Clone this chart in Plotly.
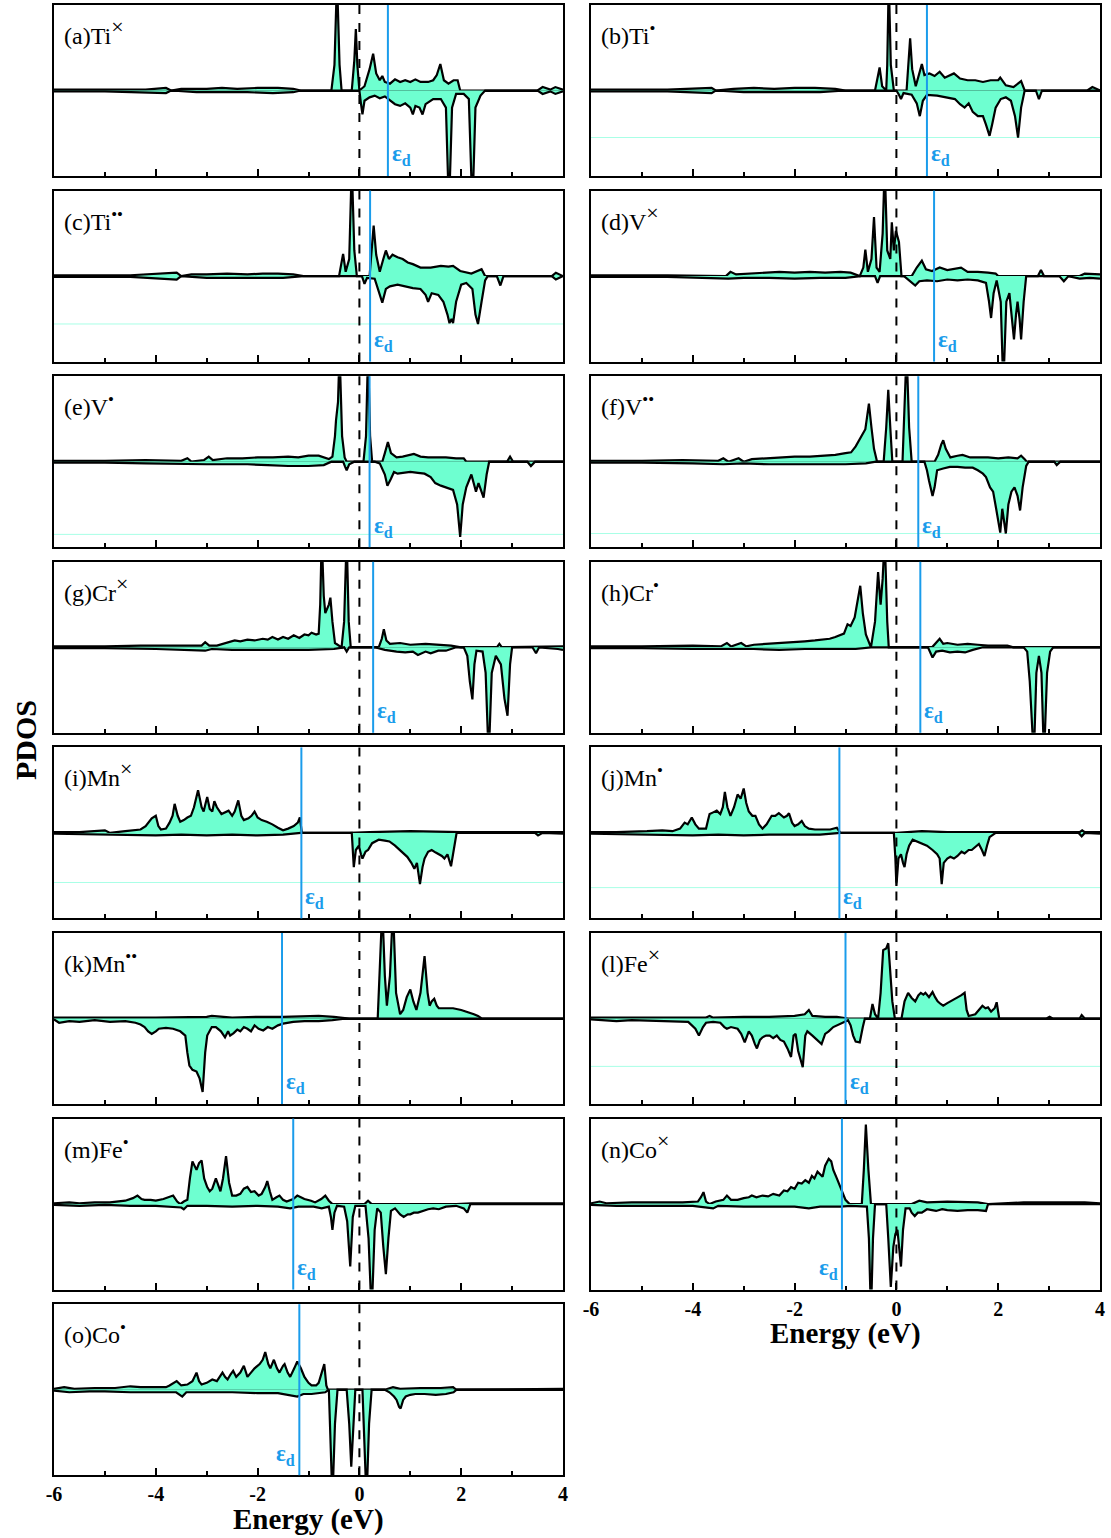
import plotly.graph_objects as go

# ---------------- data (energy eV, PDOS in units of panel half-height) ----------------
panel_keys = ['a', 'b', 'c', 'd', 'e', 'f', 'g', 'h', 'i', 'j', 'k', 'l', 'm', 'n', 'o']
panel_names = ['(a)Ti', '(b)Ti', '(c)Ti', '(d)V', '(e)V', '(f)V', '(g)Cr', '(h)Cr',
               '(i)Mn', '(j)Mn', '(k)Mn', '(l)Fe', '(m)Fe', '(n)Co', '(o)Co']
panel_charges = ['×', '•', '••', '×', '•', '••', '×', '•', '×', '•', '••', '×', '•', '×', '•']
eps_d = [0.56, 0.60, 0.21, 0.74, 0.20, 0.43, 0.27, 0.47, -1.14, -1.12, -1.52, -1.00, -1.30, -1.07, -1.18]
eps_left_side = ['n', 'o']
tick_vals = [-6, -4, -2, 0, 2, 4]
tick_text = ['-6', '-4', '-2', '0', '2', '4']
faint_lines = [('b', -0.55), ('c', -0.56), ('e', -0.85), ('f', -0.84), ('i', -0.58), ('j', -0.64), ('l', -0.56)]

a_up = [(-6,0.01),(-5.5,0.01),(-4.2,0.01),(-3.8,0.03),(-3.7,0.0),(-3.5,0.02),(-3.0,0.02),(-2.7,0.03),(-2.4,0.02),(-2.0,0.03),(-1.6,0.03),(-1.3,0.02),(-1.15,0.0),(-0.55,0.0),(-0.49,0.3),(-0.44,1.3),(-0.39,0.3),(-0.35,0.0),(-0.15,0.0),(-0.1,0.35),(-0.07,0.72),(-0.04,0.3),(0.0,0.0),(0.1,0.05),(0.2,0.25),(0.27,0.43),(0.33,0.2),(0.4,0.12),(0.45,0.17),(0.5,0.1),(0.6,0.08),(0.7,0.13),(0.8,0.1),(0.9,0.12),(1.0,0.1),(1.1,0.13),(1.2,0.1),(1.35,0.1),(1.45,0.12),(1.52,0.18),(1.59,0.31),(1.66,0.12),(1.75,0.08),(1.85,0.12),(1.93,0.12),(1.98,0.0),(3.5,0.0),(3.6,0.04),(3.75,0.01),(3.85,0.04),(4.0,0.01)]
a_dn = [(-6,-0.01),(-5.0,-0.01),(-3.8,-0.03),(-3.7,0.0),(-3.2,-0.02),(-2.8,-0.02),(-2.2,-0.02),(-1.7,-0.03),(-1.3,-0.02),(-1.15,0.0),(0.0,0.0),(0.03,-0.15),(0.06,-0.28),(0.1,-0.12),(0.2,-0.08),(0.3,-0.06),(0.4,-0.09),(0.5,-0.07),(0.6,-0.12),(0.7,-0.16),(0.8,-0.18),(0.9,-0.15),(1.0,-0.2),(1.05,-0.28),(1.1,-0.18),(1.18,-0.2),(1.24,-0.28),(1.3,-0.16),(1.45,-0.1),(1.6,-0.1),(1.7,-0.2),(1.76,-1.4),(1.82,-0.2),(1.9,-0.04),(2.05,-0.04),(2.15,-0.1),(2.22,-1.4),(2.28,-0.2),(2.38,-0.06),(2.47,0.0),(3.5,0.0),(3.6,-0.04),(3.75,-0.01),(3.85,-0.04),(4.0,-0.01)]

b_up = [(-6,0.01),(-4.5,0.01),(-3.63,0.03),(-3.55,0.0),(-3.2,0.02),(-2.8,0.03),(-2.4,0.02),(-2.0,0.03),(-1.6,0.03),(-1.2,0.02),(-1.0,0.0),(-0.42,0.0),(-0.37,0.15),(-0.33,0.27),(-0.28,0.05),(-0.2,0.0),(-0.18,0.3),(-0.15,1.3),(-0.11,0.3),(-0.05,0.0),(0.2,0.0),(0.24,0.3),(0.27,0.61),(0.31,0.25),(0.38,0.05),(0.45,0.2),(0.5,0.31),(0.55,0.18),(0.65,0.2),(0.75,0.17),(0.85,0.22),(0.95,0.15),(1.05,0.18),(1.13,0.2),(1.25,0.14),(1.4,0.12),(1.55,0.12),(1.7,0.1),(1.85,0.12),(2.0,0.12),(2.04,0.15),(2.15,0.06),(2.3,0.04),(2.4,0.08),(2.45,0.11),(2.52,0.0),(3.75,0.0),(3.85,0.04),(4.0,0.0)]
b_dn = [(-6,-0.01),(-4.5,-0.01),(-3.63,-0.03),(-3.55,0.0),(-3.0,-0.02),(-2.5,-0.02),(-2.0,-0.02),(-1.5,-0.02),(-1.0,0.0),(0.0,0.0),(0.05,-0.05),(0.09,-0.1),(0.14,-0.03),(0.3,-0.05),(0.4,-0.15),(0.46,-0.3),(0.52,-0.12),(0.6,-0.05),(0.8,-0.06),(1.0,-0.08),(1.15,-0.1),(1.25,-0.16),(1.34,-0.2),(1.42,-0.15),(1.5,-0.25),(1.6,-0.3),(1.7,-0.3),(1.76,-0.4),(1.83,-0.53),(1.88,-0.4),(1.95,-0.2),(2.05,-0.1),(2.15,-0.08),(2.25,-0.12),(2.33,-0.3),(2.39,-0.55),(2.45,-0.2),(2.52,0.0),(2.74,0.0),(2.8,-0.1),(2.86,0.0),(4.0,0.0)]

c_up = [(-6,0.01),(-4.5,0.01),(-3.59,0.04),(-3.5,0.0),(-3.3,0.02),(-3.0,0.02),(-2.6,0.03),(-2.2,0.02),(-1.9,0.03),(-1.6,0.03),(-1.3,0.02),(-1.1,0.0),(-0.4,0.0),(-0.35,0.15),(-0.32,0.26),(-0.27,0.05),(-0.2,0.2),(-0.15,1.3),(-0.1,0.3),(-0.05,0.0),(0.2,0.0),(0.24,0.3),(0.28,0.59),(0.33,0.25),(0.4,0.05),(0.47,0.2),(0.52,0.3),(0.58,0.2),(0.65,0.25),(0.75,0.22),(0.85,0.2),(0.95,0.16),(1.05,0.14),(1.2,0.1),(1.4,0.1),(1.6,0.12),(1.75,0.11),(1.84,0.12),(1.98,0.06),(2.2,0.03),(2.33,0.06),(2.4,0.08),(2.47,0.0),(3.78,0.0),(3.86,0.04),(4.0,0.0)]
c_dn = [(-6,-0.01),(-4.5,-0.01),(-3.59,-0.04),(-3.5,0.0),(-3.0,-0.02),(-2.5,-0.02),(-2.0,-0.02),(-1.5,-0.02),(-1.1,0.0),(0.05,0.0),(0.1,-0.09),(0.15,-0.02),(0.3,-0.03),(0.4,-0.2),(0.45,-0.31),(0.52,-0.15),(0.6,-0.12),(0.75,-0.1),(0.9,-0.12),(1.05,-0.14),(1.2,-0.15),(1.3,-0.22),(1.35,-0.3),(1.42,-0.2),(1.55,-0.22),(1.65,-0.3),(1.73,-0.45),(1.77,-0.55),(1.81,-0.5),(1.84,-0.55),(1.9,-0.3),(2.0,-0.1),(2.1,-0.08),(2.22,-0.15),(2.28,-0.45),(2.33,-0.56),(2.4,-0.3),(2.47,-0.05),(2.52,0.0),(2.7,0.0),(2.77,-0.11),(2.83,0.0),(3.78,0.0),(3.86,-0.04),(4.0,0.0)]

d_up = [(-6,0.01),(-4.5,0.01),(-3.35,0.0),(-3.26,0.05),(-3.15,0.02),(-2.9,0.03),(-2.6,0.04),(-2.3,0.05),(-2.0,0.04),(-1.7,0.05),(-1.4,0.04),(-1.1,0.05),(-0.9,0.04),(-0.72,0.0),(-0.65,0.1),(-0.61,0.31),(-0.56,0.05),(-0.49,0.2),(-0.44,0.69),(-0.39,0.1),(-0.33,0.05),(-0.27,0.5),(-0.23,1.3),(-0.18,0.3),(-0.12,0.2),(-0.09,0.63),(-0.05,0.3),(-0.01,0.53),(0.05,0.4),(0.1,0.0),(0.3,0.0),(0.4,0.1),(0.5,0.18),(0.58,0.08),(0.7,0.06),(0.85,0.1),(1.0,0.07),(1.15,0.09),(1.27,0.1),(1.4,0.05),(1.6,0.05),(1.8,0.04),(1.95,0.03),(2.0,0.0),(2.78,0.0),(2.84,0.07),(2.9,0.0),(3.6,0.0),(3.7,0.03),(4.0,0.02)]
d_dn = [(-6,-0.01),(-4.5,-0.01),(-3.3,-0.03),(-3.0,-0.02),(-2.5,-0.02),(-2.0,-0.03),(-1.5,-0.02),(-1.0,-0.02),(-0.7,0.0),(-0.42,0.0),(-0.37,-0.08),(-0.32,0.0),(0.15,0.0),(0.25,-0.05),(0.37,-0.11),(0.45,-0.06),(0.6,-0.05),(0.8,-0.06),(1.0,-0.04),(1.2,-0.05),(1.4,-0.04),(1.6,-0.05),(1.76,-0.08),(1.82,-0.3),(1.86,-0.49),(1.91,-0.2),(1.97,-0.05),(2.05,-0.3),(2.1,-1.3),(2.16,-0.3),(2.22,-0.2),(2.27,-0.5),(2.31,-0.74),(2.35,-0.45),(2.38,-0.3),(2.42,-0.5),(2.45,-0.74),(2.5,-0.3),(2.55,0.0),(3.2,0.0),(3.29,-0.06),(3.38,0.0),(3.6,-0.03),(3.8,-0.02),(4.0,-0.03)]

e_up = [(-6,0.01),(-5.0,0.01),(-4.2,0.02),(-3.5,0.01),(-3.38,0.04),(-3.3,0.0),(-3.05,0.02),(-2.96,0.06),(-2.88,0.02),(-2.6,0.04),(-2.3,0.04),(-2.0,0.05),(-1.7,0.05),(-1.4,0.06),(-1.2,0.05),(-1.0,0.07),(-0.8,0.07),(-0.6,0.03),(-0.53,0.06),(-0.48,0.3),(-0.46,0.48),(-0.42,0.7),(-0.39,1.3),(-0.34,0.3),(-0.29,0.05),(-0.25,0.0),(0.08,0.0),(0.13,0.3),(0.17,1.3),(0.21,0.3),(0.25,0.0),(0.45,0.0),(0.5,0.1),(0.56,0.23),(0.62,0.1),(0.73,0.05),(0.85,0.06),(0.95,0.07),(1.07,0.09),(1.2,0.06),(1.35,0.05),(1.5,0.05),(1.7,0.05),(1.9,0.04),(2.05,0.04),(2.1,0.0),(2.9,0.0),(2.96,0.06),(3.02,0.0),(4.0,0.0)]
e_dn = [(-6,-0.01),(-5.0,-0.01),(-4.2,-0.02),(-3.38,-0.03),(-3.0,-0.03),(-2.6,-0.03),(-2.2,-0.03),(-1.8,-0.04),(-1.4,-0.05),(-1.0,-0.05),(-0.7,-0.04),(-0.55,0.0),(-0.32,0.0),(-0.28,-0.06),(-0.25,-0.1),(-0.2,-0.03),(-0.1,0.0),(0.3,0.0),(0.4,-0.02),(0.5,-0.15),(0.55,-0.28),(0.62,-0.2),(0.68,-0.12),(0.75,-0.14),(0.87,-0.13),(1.0,-0.12),(1.15,-0.13),(1.28,-0.14),(1.4,-0.18),(1.49,-0.25),(1.6,-0.28),(1.7,-0.3),(1.84,-0.33),(1.92,-0.5),(1.98,-0.88),(2.03,-0.5),(2.1,-0.3),(2.2,-0.15),(2.26,-0.3),(2.29,-0.35),(2.34,-0.25),(2.4,-0.35),(2.44,-0.42),(2.5,-0.15),(2.55,0.0),(3.3,0.0),(3.37,-0.05),(3.45,0.0),(4.0,0.0)]

f_up = [(-6,0.01),(-5.0,0.01),(-4.2,0.02),(-3.5,0.01),(-3.4,0.04),(-3.3,0.0),(-3.1,0.04),(-3.0,0.0),(-2.84,0.03),(-2.6,0.04),(-2.3,0.05),(-2.0,0.06),(-1.7,0.06),(-1.4,0.07),(-1.2,0.08),(-1.0,0.1),(-0.89,0.11),(-0.8,0.18),(-0.75,0.23),(-0.68,0.3),(-0.61,0.38),(-0.57,0.55),(-0.54,0.68),(-0.49,0.4),(-0.44,0.15),(-0.38,0.0),(-0.25,0.0),(-0.2,0.4),(-0.16,0.84),(-0.12,0.4),(-0.08,0.0),(0.12,0.0),(0.16,0.5),(0.2,1.3),(0.25,0.4),(0.3,0.0),(0.75,0.0),(0.82,0.08),(0.88,0.2),(0.92,0.25),(0.97,0.15),(1.06,0.05),(1.2,0.07),(1.3,0.08),(1.45,0.05),(1.6,0.05),(1.8,0.05),(2.0,0.04),(2.2,0.05),(2.38,0.04),(2.45,0.07),(2.52,0.03),(2.56,0.0),(4.0,0.0)]
f_dn = [(-6,-0.01),(-5.0,-0.01),(-4.0,-0.02),(-3.4,-0.03),(-3.0,-0.02),(-2.5,-0.03),(-2.0,-0.03),(-1.5,-0.03),(-1.0,-0.03),(-0.6,-0.02),(-0.4,0.0),(0.55,0.0),(0.6,-0.1),(0.64,-0.22),(0.68,-0.35),(0.71,-0.4),(0.75,-0.3),(0.8,-0.1),(0.92,-0.08),(1.05,-0.06),(1.2,-0.06),(1.35,-0.07),(1.5,-0.07),(1.6,-0.1),(1.7,-0.14),(1.76,-0.18),(1.84,-0.3),(1.9,-0.35),(1.96,-0.55),(2.02,-0.8),(2.04,-0.83),(2.08,-0.55),(2.12,-0.7),(2.15,-0.84),(2.2,-0.5),(2.26,-0.35),(2.32,-0.3),(2.38,-0.4),(2.43,-0.57),(2.48,-0.3),(2.55,-0.05),(2.6,0.0),(3.1,0.0),(3.15,-0.04),(3.22,0.0),(4.0,0.0)]

g_up = [(-6,0.01),(-5.0,0.01),(-4.3,0.02),(-3.5,0.02),(-3.1,0.02),(-3.03,0.06),(-2.95,0.02),(-2.8,0.02),(-2.6,0.05),(-2.45,0.08),(-2.34,0.07),(-2.2,0.09),(-2.06,0.08),(-1.9,0.1),(-1.8,0.09),(-1.71,0.12),(-1.6,0.09),(-1.5,0.12),(-1.4,0.1),(-1.29,0.14),(-1.18,0.11),(-1.08,0.15),(-1.0,0.14),(-0.94,0.17),(-0.85,0.15),(-0.8,0.16),(-0.77,0.5),(-0.74,1.3),(-0.7,0.6),(-0.67,0.4),(-0.6,0.5),(-0.57,0.58),(-0.53,0.3),(-0.48,0.05),(-0.35,0.0),(-0.3,0.3),(-0.25,1.3),(-0.21,0.3),(-0.17,0.0),(0.38,0.0),(0.44,0.1),(0.48,0.21),(0.53,0.08),(0.6,0.04),(0.8,0.05),(1.0,0.03),(1.3,0.04),(1.5,0.03),(1.8,0.02),(2.0,0.0),(2.7,0.0),(2.75,0.04),(2.8,0.0),(4.0,0.01)]
g_dn = [(-6,-0.01),(-5.0,-0.01),(-4.0,-0.02),(-3.03,-0.04),(-2.9,-0.02),(-2.5,-0.03),(-2.0,-0.03),(-1.5,-0.03),(-1.0,-0.03),(-0.5,-0.02),(-0.3,0.0),(-0.25,-0.05),(-0.2,0.0),(0.3,0.0),(0.5,-0.03),(0.73,-0.05),(0.9,-0.06),(1.05,-0.05),(1.15,-0.09),(1.3,-0.05),(1.4,-0.07),(1.55,-0.04),(1.7,-0.04),(1.9,0.0),(2.05,0.0),(2.12,-0.1),(2.17,-0.4),(2.22,-0.61),(2.26,-0.2),(2.3,-0.04),(2.42,-0.05),(2.48,-0.3),(2.54,-1.3),(2.6,-0.3),(2.68,-0.1),(2.78,-0.2),(2.85,-0.6),(2.91,-0.8),(2.96,-0.2),(3.0,0.0),(3.4,0.0),(3.47,-0.07),(3.53,0.0),(3.9,-0.02),(4.0,-0.03)]

h_up = [(-6,0.01),(-5.0,0.01),(-4.0,0.02),(-3.45,0.01),(-3.33,0.05),(-3.25,0.01),(-3.05,0.05),(-2.95,0.01),(-2.8,0.03),(-2.5,0.04),(-2.3,0.05),(-2.0,0.06),(-1.8,0.07),(-1.6,0.08),(-1.45,0.09),(-1.31,0.1),(-1.2,0.12),(-1.1,0.14),(-1.03,0.16),(-0.96,0.27),(-0.9,0.25),(-0.82,0.35),(-0.76,0.55),(-0.71,0.72),(-0.66,0.4),(-0.6,0.15),(-0.5,0.0),(-0.42,0.3),(-0.36,0.88),(-0.31,0.5),(-0.27,0.8),(-0.23,1.3),(-0.18,0.3),(-0.15,0.0),(0.7,0.0),(0.78,0.05),(0.85,0.1),(0.92,0.04),(1.0,0.05),(1.2,0.03),(1.4,0.04),(1.6,0.03),(1.8,0.02),(2.0,0.02),(2.18,0.02),(2.3,0.0),(4.0,0.0)]
h_dn = [(-6,-0.01),(-5.0,-0.01),(-4.0,-0.02),(-3.3,-0.02),(-2.8,-0.02),(-2.3,-0.03),(-1.8,-0.02),(-1.3,-0.02),(-0.8,-0.02),(-0.5,0.0),(0.62,0.0),(0.71,-0.12),(0.78,-0.05),(0.9,-0.04),(1.05,-0.06),(1.2,-0.05),(1.35,-0.06),(1.5,-0.03),(1.7,0.0),(2.5,0.0),(2.57,-0.05),(2.62,-0.4),(2.66,-0.9),(2.7,-1.3),(2.75,-0.3),(2.8,-0.1),(2.85,-0.3),(2.9,-1.3),(2.96,-0.3),(3.02,-0.05),(3.08,0.0),(4.0,0.0)]

i_up = [(-6,0.01),(-5.5,0.01),(-5.0,0.03),(-4.9,0.0),(-4.6,0.02),(-4.3,0.04),(-4.2,0.08),(-4.08,0.17),(-4.0,0.2),(-3.95,0.08),(-3.9,0.04),(-3.8,0.05),(-3.73,0.12),(-3.67,0.2),(-3.63,0.34),(-3.57,0.2),(-3.52,0.13),(-3.45,0.15),(-3.38,0.18),(-3.31,0.2),(-3.25,0.3),(-3.17,0.5),(-3.1,0.3),(-3.06,0.25),(-3.02,0.35),(-2.99,0.42),(-2.94,0.28),(-2.89,0.25),(-2.85,0.37),(-2.8,0.3),(-2.71,0.22),(-2.65,0.24),(-2.57,0.26),(-2.5,0.2),(-2.45,0.25),(-2.38,0.38),(-2.32,0.2),(-2.27,0.15),(-2.18,0.17),(-2.12,0.2),(-2.06,0.25),(-2.0,0.18),(-1.92,0.15),(-1.82,0.13),(-1.71,0.1),(-1.6,0.06),(-1.5,0.03),(-1.4,0.05),(-1.29,0.08),(-1.21,0.12),(-1.17,0.18),(-1.13,0.0),(-0.2,0.0),(0.2,0.01),(1.0,0.02),(2.0,0.01),(3.51,0.01),(4.0,0.01)]
i_dn = [(-6,-0.01),(-5.0,-0.02),(-4.5,-0.02),(-4.0,-0.03),(-3.5,-0.02),(-3.0,-0.03),(-2.5,-0.02),(-2.0,-0.03),(-1.5,-0.02),(-1.15,0.0),(-0.15,0.0),(-0.13,-0.25),(-0.11,-0.4),(-0.07,-0.2),(-0.01,-0.15),(0.03,-0.25),(0.06,-0.3),(0.12,-0.22),(0.17,-0.2),(0.25,-0.12),(0.38,-0.08),(0.5,-0.09),(0.59,-0.1),(0.7,-0.15),(0.8,-0.2),(0.88,-0.24),(0.94,-0.28),(1.02,-0.35),(1.08,-0.42),(1.13,-0.35),(1.19,-0.6),(1.24,-0.4),(1.28,-0.3),(1.35,-0.22),(1.42,-0.2),(1.5,-0.23),(1.56,-0.25),(1.62,-0.27),(1.67,-0.3),(1.73,-0.25),(1.8,-0.39),(1.86,-0.2),(1.91,0.0),(3.45,0.0),(3.51,-0.03),(3.6,0.0),(4.0,-0.01)]

j_up = [(-6,0.01),(-5.5,0.01),(-4.9,0.02),(-4.6,0.03),(-4.4,0.02),(-4.25,0.05),(-4.16,0.12),(-4.1,0.1),(-4.02,0.18),(-3.95,0.1),(-3.88,0.05),(-3.74,0.05),(-3.7,0.15),(-3.67,0.22),(-3.6,0.24),(-3.53,0.26),(-3.46,0.22),(-3.41,0.3),(-3.37,0.48),(-3.32,0.3),(-3.26,0.2),(-3.19,0.3),(-3.12,0.45),(-3.06,0.4),(-3.0,0.52),(-2.95,0.35),(-2.9,0.25),(-2.83,0.2),(-2.77,0.2),(-2.7,0.1),(-2.63,0.05),(-2.55,0.1),(-2.45,0.2),(-2.38,0.2),(-2.31,0.23),(-2.26,0.2),(-2.21,0.18),(-2.15,0.2),(-2.11,0.23),(-2.05,0.12),(-2.0,0.08),(-1.93,0.1),(-1.86,0.14),(-1.8,0.08),(-1.72,0.05),(-1.6,0.04),(-1.45,0.04),(-1.3,0.04),(-1.17,0.06),(-1.1,0.0),(0.0,0.0),(0.5,0.02),(1.0,0.01),(2.0,0.01),(3.6,0.01),(3.65,0.03),(3.7,0.01),(4.0,0.01)]
j_dn = [(-6,-0.01),(-5.0,-0.02),(-4.5,-0.02),(-4.0,-0.03),(-3.5,-0.02),(-3.0,-0.03),(-2.5,-0.02),(-2.0,-0.02),(-1.5,-0.02),(-1.1,0.0),(-0.05,0.0),(-0.02,-0.3),(0.0,-0.62),(0.04,-0.3),(0.09,-0.25),(0.13,-0.35),(0.16,-0.4),(0.2,-0.25),(0.25,-0.15),(0.32,-0.08),(0.4,-0.1),(0.5,-0.12),(0.6,-0.15),(0.71,-0.2),(0.8,-0.25),(0.85,-0.3),(0.89,-0.6),(0.93,-0.35),(1.0,-0.3),(1.06,-0.28),(1.13,-0.3),(1.2,-0.27),(1.28,-0.22),(1.34,-0.24),(1.42,-0.2),(1.48,-0.2),(1.55,-0.17),(1.62,-0.13),(1.68,-0.2),(1.73,-0.27),(1.78,-0.15),(1.83,-0.05),(1.95,0.0),(3.58,0.0),(3.64,-0.04),(3.7,0.0),(4.0,-0.01)]

k_up = [(-6,0.01),(-5.0,0.01),(-4.0,0.01),(-3.0,0.02),(-2.9,0.03),(-2.5,0.01),(-2.0,0.02),(-1.5,0.02),(-1.1,0.03),(-0.8,0.03),(-0.5,0.02),(-0.2,0.0),(0.36,0.0),(0.4,0.5),(0.45,1.3),(0.5,0.5),(0.54,0.15),(0.6,0.5),(0.66,1.3),(0.72,0.3),(0.8,0.05),(0.86,0.1),(0.93,0.25),(1.0,0.34),(1.06,0.2),(1.12,0.1),(1.2,0.3),(1.28,0.73),(1.34,0.3),(1.38,0.15),(1.42,0.2),(1.47,0.23),(1.52,0.15),(1.56,0.12),(1.7,0.12),(1.84,0.12),(2.0,0.1),(2.12,0.08),(2.25,0.05),(2.33,0.03),(2.4,0.0),(4.0,0.0)]
k_dn = [(-6,-0.01),(-5.9,-0.05),(-5.7,-0.03),(-5.5,-0.04),(-5.2,-0.02),(-4.9,-0.04),(-4.6,-0.03),(-4.4,-0.05),(-4.3,-0.07),(-4.22,-0.1),(-4.15,-0.15),(-4.08,-0.18),(-4.0,-0.15),(-3.94,-0.12),(-3.8,-0.11),(-3.66,-0.12),(-3.52,-0.15),(-3.42,-0.2),(-3.38,-0.4),(-3.34,-0.55),(-3.28,-0.6),(-3.2,-0.62),(-3.14,-0.7),(-3.08,-0.86),(-3.03,-0.4),(-2.99,-0.2),(-2.9,-0.1),(-2.82,-0.1),(-2.72,-0.15),(-2.64,-0.22),(-2.58,-0.15),(-2.54,-0.2),(-2.47,-0.17),(-2.4,-0.13),(-2.34,-0.15),(-2.27,-0.1),(-2.2,-0.12),(-2.13,-0.15),(-2.06,-0.08),(-1.98,-0.12),(-1.89,-0.14),(-1.8,-0.1),(-1.71,-0.12),(-1.6,-0.08),(-1.5,-0.06),(-1.3,-0.04),(-1.08,-0.03),(-0.8,-0.03),(-0.53,-0.02),(-0.25,0.0),(4.0,0.0)]

l_up = [(-6,0.01),(-5.5,0.01),(-4.5,0.01),(-3.75,0.01),(-3.67,0.03),(-3.6,0.01),(-3.0,0.02),(-2.5,0.02),(-2.0,0.03),(-1.8,0.05),(-1.72,0.1),(-1.65,0.03),(-1.4,0.02),(-1.17,0.02),(-0.95,0.0),(-0.52,0.0),(-0.47,0.17),(-0.42,0.05),(-0.36,0.0),(-0.31,0.3),(-0.26,0.8),(-0.2,0.82),(-0.16,0.88),(-0.12,0.5),(-0.08,0.2),(-0.03,0.0),(0.1,0.0),(0.16,0.2),(0.23,0.3),(0.3,0.24),(0.37,0.2),(0.43,0.27),(0.48,0.3),(0.53,0.28),(0.57,0.3),(0.64,0.25),(0.71,0.31),(0.76,0.25),(0.81,0.2),(0.87,0.17),(0.92,0.15),(1.0,0.18),(1.06,0.2),(1.13,0.22),(1.2,0.24),(1.27,0.27),(1.34,0.3),(1.38,0.1),(1.42,0.03),(1.55,0.05),(1.62,0.1),(1.69,0.15),(1.75,0.12),(1.8,0.13),(1.86,0.08),(1.93,0.12),(1.97,0.19),(2.02,0.0),(2.95,0.0),(3.01,0.02),(3.07,0.0),(3.6,0.0),(3.64,0.04),(3.7,0.0),(4.0,0.0)]
l_dn = [(-6,-0.01),(-5.5,-0.03),(-5.2,-0.02),(-4.7,-0.03),(-4.3,-0.03),(-4.09,-0.04),(-3.95,-0.12),(-3.88,-0.2),(-3.8,-0.1),(-3.74,-0.05),(-3.6,-0.04),(-3.46,-0.05),(-3.38,-0.1),(-3.33,-0.12),(-3.25,-0.1),(-3.12,-0.12),(-3.05,-0.18),(-2.98,-0.28),(-2.9,-0.15),(-2.84,-0.2),(-2.78,-0.3),(-2.74,-0.35),(-2.68,-0.25),(-2.63,-0.22),(-2.56,-0.2),(-2.49,-0.2),(-2.42,-0.23),(-2.35,-0.2),(-2.28,-0.25),(-2.21,-0.27),(-2.14,-0.35),(-2.07,-0.45),(-2.02,-0.2),(-1.98,-0.18),(-1.93,-0.38),(-1.87,-0.5),(-1.84,-0.57),(-1.79,-0.2),(-1.75,-0.15),(-1.65,-0.2),(-1.58,-0.24),(-1.52,-0.27),(-1.47,-0.3),(-1.4,-0.18),(-1.33,-0.15),(-1.24,-0.1),(-1.13,-0.07),(-1.03,-0.05),(-0.95,-0.02),(-0.9,-0.08),(-0.85,-0.2),(-0.8,-0.27),(-0.72,-0.28),(-0.66,-0.1),(-0.62,0.0),(4.0,0.0)]

m_up = [(-6,0.01),(-5.7,0.02),(-5.5,0.01),(-5.2,0.02),(-4.9,0.02),(-4.6,0.04),(-4.45,0.07),(-4.36,0.1),(-4.28,0.06),(-4.22,0.05),(-4.1,0.05),(-4.0,0.04),(-3.85,0.06),(-3.73,0.08),(-3.66,0.1),(-3.58,0.03),(-3.52,0.0),(-3.45,0.03),(-3.38,0.05),(-3.33,0.3),(-3.28,0.5),(-3.24,0.45),(-3.2,0.4),(-3.15,0.48),(-3.1,0.51),(-3.05,0.3),(-2.99,0.2),(-2.94,0.15),(-2.89,0.18),(-2.82,0.3),(-2.77,0.2),(-2.73,0.15),(-2.68,0.3),(-2.62,0.56),(-2.56,0.25),(-2.5,0.1),(-2.42,0.1),(-2.34,0.12),(-2.27,0.18),(-2.2,0.2),(-2.13,0.14),(-2.06,0.15),(-1.98,0.1),(-1.92,0.12),(-1.85,0.2),(-1.81,0.27),(-1.76,0.15),(-1.71,0.05),(-1.63,0.08),(-1.57,0.1),(-1.5,0.05),(-1.43,0.03),(-1.3,0.06),(-1.22,0.1),(-1.15,0.08),(-1.08,0.06),(-0.95,0.04),(-0.87,0.02),(-0.75,0.06),(-0.67,0.1),(-0.6,0.04),(-0.53,0.0),(0.1,0.0),(0.17,0.04),(0.24,0.0),(1.9,0.0),(2.2,0.01),(4.0,0.01)]
m_dn = [(-6,-0.01),(-5.5,-0.02),(-5.0,-0.01),(-4.5,-0.02),(-4.0,-0.02),(-3.5,-0.04),(-3.45,-0.06),(-3.38,-0.02),(-3.0,-0.02),(-2.5,-0.03),(-2.0,-0.02),(-1.6,-0.03),(-1.36,-0.05),(-1.2,-0.03),(-0.9,-0.03),(-0.74,-0.05),(-0.6,-0.03),(-0.56,-0.15),(-0.53,-0.3),(-0.49,-0.1),(-0.44,-0.02),(-0.3,-0.03),(-0.24,-0.2),(-0.18,-0.73),(-0.13,-0.15),(-0.08,-0.02),(0.12,-0.02),(0.18,-0.4),(0.24,-1.3),(0.3,-0.3),(0.35,-0.05),(0.42,-0.1),(0.47,-0.5),(0.52,-0.82),(0.57,-0.4),(0.62,-0.08),(0.7,-0.05),(0.8,-0.12),(0.87,-0.15),(0.95,-0.12),(1.0,-0.12),(1.07,-0.1),(1.15,-0.1),(1.25,-0.08),(1.35,-0.06),(1.45,-0.05),(1.56,-0.06),(1.7,-0.03),(1.9,-0.02),(2.05,-0.05),(2.12,-0.1),(2.18,0.0),(4.0,0.0)]

n_up = [(-6,0.01),(-5.83,0.03),(-5.7,0.01),(-5.2,0.02),(-4.6,0.02),(-4.2,0.02),(-3.9,0.03),(-3.84,0.08),(-3.79,0.14),(-3.74,0.03),(-3.67,0.0),(-3.55,0.03),(-3.4,0.05),(-3.33,0.1),(-3.25,0.05),(-3.12,0.05),(-3.0,0.07),(-2.9,0.08),(-2.84,0.1),(-2.75,0.08),(-2.63,0.1),(-2.52,0.09),(-2.42,0.12),(-2.3,0.1),(-2.21,0.16),(-2.14,0.15),(-2.07,0.2),(-2.0,0.18),(-1.93,0.25),(-1.86,0.24),(-1.79,0.28),(-1.72,0.25),(-1.66,0.33),(-1.61,0.3),(-1.55,0.38),(-1.5,0.35),(-1.45,0.32),(-1.4,0.45),(-1.33,0.53),(-1.28,0.5),(-1.24,0.4),(-1.17,0.3),(-1.1,0.2),(-1.0,0.05),(-0.92,0.0),(-0.68,0.0),(-0.64,0.4),(-0.6,0.93),(-0.55,0.4),(-0.5,0.0),(0.3,0.0),(0.45,0.04),(0.6,0.02),(1.0,0.03),(1.6,0.02),(1.8,0.0),(2.5,0.02),(3.7,0.02),(4.0,0.01)]
n_dn = [(-6,-0.01),(-5.5,-0.02),(-5.0,-0.02),(-4.5,-0.02),(-4.0,-0.02),(-3.6,-0.05),(-3.5,-0.02),(-3.0,-0.03),(-2.5,-0.03),(-2.0,-0.03),(-1.72,-0.05),(-1.5,-0.03),(-1.1,-0.03),(-0.9,-0.02),(-0.58,-0.03),(-0.54,-0.4),(-0.5,-1.3),(-0.46,-0.4),(-0.42,0.0),(-0.2,0.0),(-0.16,-0.4),(-0.11,-0.97),(-0.06,-0.5),(-0.02,-0.35),(0.02,-0.3),(0.06,-0.55),(0.09,-0.73),(0.13,-0.3),(0.18,-0.05),(0.26,-0.05),(0.3,-0.1),(0.36,-0.14),(0.42,-0.1),(0.5,-0.1),(0.6,-0.06),(0.7,-0.07),(0.78,-0.08),(0.9,-0.06),(1.0,-0.07),(1.2,-0.08),(1.4,-0.07),(1.6,-0.07),(1.76,-0.08),(1.8,0.0),(4.0,0.0)]

o_up = [(-6,0.01),(-5.8,0.03),(-5.6,0.01),(-5.2,0.02),(-4.8,0.02),(-4.5,0.04),(-4.3,0.03),(-4.0,0.03),(-3.8,0.03),(-3.73,0.05),(-3.65,0.08),(-3.59,0.1),(-3.5,0.05),(-3.38,0.06),(-3.28,0.1),(-3.2,0.2),(-3.15,0.1),(-3.1,0.06),(-3.0,0.08),(-2.89,0.12),(-2.8,0.1),(-2.69,0.2),(-2.64,0.15),(-2.59,0.12),(-2.53,0.18),(-2.48,0.22),(-2.42,0.15),(-2.34,0.2),(-2.27,0.28),(-2.2,0.15),(-2.13,0.2),(-2.06,0.25),(-1.96,0.3),(-1.9,0.35),(-1.85,0.44),(-1.79,0.3),(-1.75,0.25),(-1.68,0.35),(-1.62,0.25),(-1.57,0.2),(-1.5,0.28),(-1.47,0.3),(-1.41,0.2),(-1.36,0.15),(-1.28,0.25),(-1.22,0.33),(-1.15,0.25),(-1.08,0.15),(-1.0,0.08),(-0.94,0.05),(-0.85,0.05),(-0.8,0.08),(-0.74,0.2),(-0.69,0.3),(-0.65,0.05),(-0.62,0.0),(0.5,0.0),(0.66,0.03),(0.8,0.01),(1.2,0.02),(1.6,0.02),(1.84,0.03),(1.9,0.0),(4.0,0.01)]
o_dn = [(-6,-0.01),(-5.7,-0.03),(-5.3,-0.02),(-5.0,-0.02),(-4.5,-0.03),(-4.0,-0.03),(-3.6,-0.03),(-3.48,-0.08),(-3.4,-0.03),(-3.0,-0.03),(-2.5,-0.03),(-2.0,-0.04),(-1.6,-0.04),(-1.22,-0.08),(-1.1,-0.05),(-0.94,-0.05),(-0.8,-0.04),(-0.67,-0.03),(-0.6,0.0),(-0.57,-0.5),(-0.53,-1.3),(-0.48,-0.4),(-0.43,0.0),(-0.25,0.0),(-0.2,-0.4),(-0.16,-0.9),(-0.12,-0.4),(-0.08,0.0),(0.06,0.0),(0.1,-0.5),(0.14,-1.3),(0.19,-0.4),(0.24,0.0),(0.5,0.0),(0.59,-0.03),(0.68,-0.08),(0.73,-0.12),(0.78,-0.2),(0.81,-0.22),(0.86,-0.12),(0.91,-0.08),(1.0,-0.06),(1.1,-0.05),(1.28,-0.05),(1.5,-0.06),(1.7,-0.05),(1.85,-0.03),(1.91,0.0),(4.0,0.0)]

series = {
    'a': (a_up, a_dn), 'b': (b_up, b_dn), 'c': (c_up, c_dn), 'd': (d_up, d_dn),
    'e': (e_up, e_dn), 'f': (f_up, f_dn), 'g': (g_up, g_dn), 'h': (h_up, h_dn),
    'i': (i_up, i_dn), 'j': (j_up, j_dn), 'k': (k_up, k_dn), 'l': (l_up, l_dn),
    'm': (m_up, m_dn), 'n': (n_up, n_dn), 'o': (o_up, o_dn),
}

# ---------------- styling ----------------
W, H = 1111, 1538
FILL = '#6EFFD0'
BLUE = '#1A9CEB'
SERIF = 'Liberation Serif'
col_x = [(54, 563), (591, 1100)]
row_top0, row_step, panel_h = 5, 185.6, 171

fig = go.Figure()
shapes = []
annotations = []
layout_axes = {}

for idx, key in enumerate(panel_keys):
    n = idx + 1
    col, row = idx % 2, idx // 2
    xa, ya = ('x' if n == 1 else f'x{n}'), ('y' if n == 1 else f'y{n}')
    x0p, x1p = col_x[col]
    top = row_top0 + row_step * row
    bot = top + panel_h
    up, dn = series[key]
    for pts in (up, dn):
        fig.add_trace(go.Scatter(
            x=[p[0] for p in pts], y=[p[1] for p in pts], mode='lines',
            line=dict(color='black', width=2.2), fill='tozeroy', fillcolor=FILL,
            xaxis=xa, yaxis=ya, showlegend=False, hoverinfo='skip'))
    show_lbl = key in ('n', 'o')
    layout_axes['xaxis' if n == 1 else f'xaxis{n}'] = dict(
        domain=[x0p / W, x1p / W], anchor=ya, range=[-6, 4], automargin=False,
        showline=True, linecolor='black', linewidth=2, mirror=True,
        ticks='inside', ticklen=7, tickwidth=2, tickcolor='black',
        tickmode='array', tickvals=tick_vals, ticktext=tick_text,
        minor=dict(ticks='inside', ticklen=4, tickwidth=2, tickcolor='black', dtick=1, tick0=-6),
        showticklabels=show_lbl, ticklabelstandoff=0,
        tickfont=dict(family=SERIF, size=20, color='black', weight='bold'),
        showgrid=False, zeroline=False, fixedrange=True)
    layout_axes['yaxis' if n == 1 else f'yaxis{n}'] = dict(
        domain=[1 - bot / H, 1 - top / H], anchor=xa, range=[-1, 1], automargin=False,
        showline=True, linecolor='black', linewidth=2, mirror=True,
        ticks='', showticklabels=False, showgrid=False,
        zeroline=True, zerolinecolor='black', zerolinewidth=2, fixedrange=True)
    # Fermi level (dashed) and d-band centre
    shapes.append(dict(type='line', xref=xa, yref=f'{ya} domain', x0=0, x1=0, y0=0, y1=1,
                       line=dict(color='black', width=2, dash='dash')))
    shapes.append(dict(type='line', xref=xa, yref=f'{ya} domain', x0=eps_d[idx], x1=eps_d[idx], y0=0, y1=1,
                       line=dict(color=BLUE, width=2)))
    for fk, fy in faint_lines:
        if fk == key:
            shapes.append(dict(type='line', xref=f'{xa} domain', yref=ya, x0=0, x1=1, y0=fy, y1=fy,
                               line=dict(color='#A8FFE6', width=1), layer='below'))
    left = key in eps_left_side
    annotations.append(dict(x=eps_d[idx], y=-0.76, xref=xa, yref=ya,
                            text='ε<sub>d</sub>', showarrow=False,
                            xanchor='right' if left else 'left', yanchor='middle',
                            xshift=-2 if left else 2,
                            font=dict(family=SERIF, size=23, color=BLUE, weight='bold')))
    charge = panel_charges[idx]
    if charge == '×':
        label = f'{panel_names[idx]}<sup><span style="font-size:22px">{charge}</span></sup>'
        lshift = 5
    else:
        label = f'{panel_names[idx]}<sup>{charge}</sup>'
        lshift = 0
    annotations.append(dict(x=0.016, y=0.93, xref=f'{xa} domain', yref=f'{ya} domain',
                            text=label, showarrow=False, xanchor='left', yanchor='top', yshift=lshift,
                            font=dict(family=SERIF, size=24, color='black')))

annotations.append(dict(x=25 / W, y=1 - 740 / H, xref='paper', yref='paper', text='PDOS',
                        textangle=-90, showarrow=False, xanchor='center', yanchor='middle',
                        font=dict(family=SERIF, size=30, color='black', weight='bold')))
annotations.append(dict(x=308 / W, y=1 - 1519 / H, xref='paper', yref='paper', text='Energy (eV)',
                        showarrow=False, xanchor='center', yanchor='middle',
                        font=dict(family=SERIF, size=29, color='black', weight='bold')))
annotations.append(dict(x=845 / W, y=1 - 1333 / H, xref='paper', yref='paper', text='Energy (eV)',
                        showarrow=False, xanchor='center', yanchor='middle',
                        font=dict(family=SERIF, size=29, color='black', weight='bold')))

fig.update_layout(width=W, height=H, margin=dict(l=0, r=0, t=0, b=0, autoexpand=False),
                  paper_bgcolor='white', plot_bgcolor='white',
                  shapes=shapes, annotations=annotations, **layout_axes)
fig.write_html('out.html')
